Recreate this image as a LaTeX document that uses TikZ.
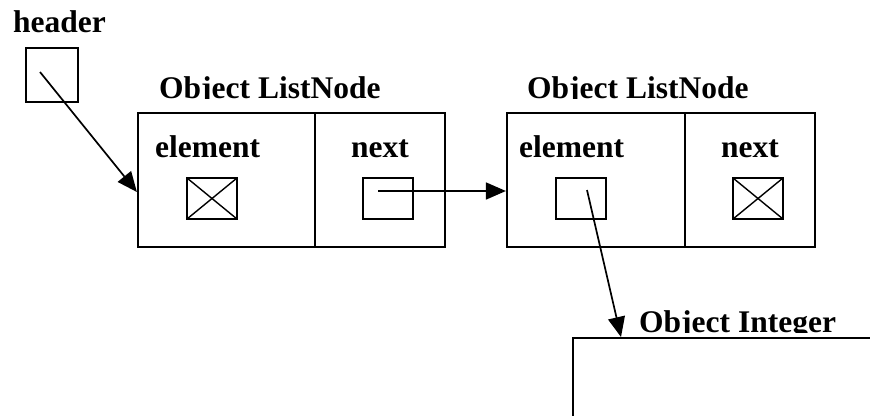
\documentclass[tikz,border=0pt]{standalone}
\usepackage{fontspec}
\setmainfont{Liberation Serif}
\usetikzlibrary{arrows.meta,calc}
\begin{document}
\begin{tikzpicture}[x=1pt,y=-1pt,
  box/.style={draw,line width=2.2pt,inner sep=0pt},
  cell/.style={box,minimum height=134pt},
  slot/.style={box,minimum width=50pt,minimum height=41pt},
  nil/.style={slot,path picture={
    \draw[line width=1.4pt]
      (path picture bounding box.north west) -- (path picture bounding box.south east)
      (path picture bounding box.south west) -- (path picture bounding box.north east);}},
  lbl/.style={anchor=base west,inner sep=0pt,font=\fontsize{31.5}{36}\selectfont\bfseries},
  ptr/.style={line width=1.7pt,-{Triangle[length=20pt,width=17pt]}}]
\clip (0,0) rectangle (870,415);

% header reference
\node[lbl] (hdrlbl) at (13,32) {header};
\node[box,minimum width=52pt,minimum height=54pt,anchor=north west] (hdr) at (25,47) {};

% first list node
\node[cell,minimum width=177pt] (n1e) at (226.5,180) {};
\node[cell,minimum width=130pt] (n1n) at (380,180) {};
\node[nil] (e1) at (212,198.5) {};
\node[slot] (x1) at (388,198.5) {};
\node[lbl] (e1lbl) at (155,157) {element};
\node[lbl] (x1lbl) at (351,157) {next};

% second list node
\node[cell,minimum width=178pt] (n2e) at (596,180) {};
\node[cell,minimum width=130pt] (n2n) at (750,180) {};
\node[slot] (e2) at (581,198.5) {};
\node[nil] (x2) at (758,198.5) {};
\node[lbl] (e2lbl) at (519,157) {element};
\node[lbl] (x2lbl) at (721,157) {next};

% integer object
\node[box,minimum width=320pt,minimum height=100pt,anchor=north west] (int) at (572,337) {};

% object titles, cut off at their baseline
\begin{scope}
  \clip (0,0) rectangle (870,98);
  \node[lbl] (t1) at (159,98) {Object ListNode};
  \node[lbl] (t2) at (527,98) {Object ListNode};
\end{scope}
\begin{scope}
  \clip (0,300) rectangle (870,332);
  \node[lbl] (t3) at (639,332) {Object Integer};
\end{scope}

% pointers
\coordinate (hs) at (40,72);
\draw[ptr] (hs) -- ($(n1e.west)+(0,12)$);
\coordinate (ns) at (378,191);
\draw[ptr] (ns) -- (ns -| n2e.west);
\coordinate (es) at (587,190);
\draw[ptr] (es) -- ($(int.north west)+(49,0)$);
\end{tikzpicture}
\end{document}
